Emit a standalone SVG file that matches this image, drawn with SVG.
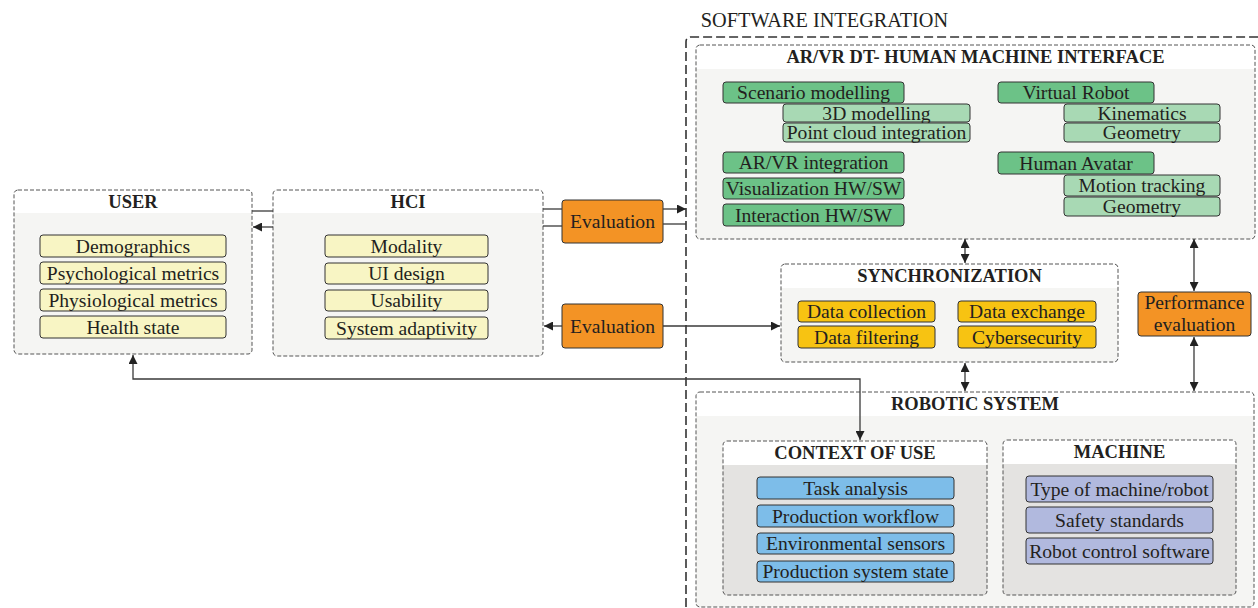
<svg xmlns="http://www.w3.org/2000/svg" width="1258" height="608" viewBox="0 0 1258 608">
<style>
text{font-family:"Liberation Serif","Times New Roman",serif;fill:#231f20;text-anchor:middle}
.t{font-size:19.6px}
.h{font-size:18.5px;font-weight:bold}
.box{fill:none;stroke:#555;stroke-width:1;stroke-dasharray:4 2}
.hdr{fill:#fff}
.body{fill:#f5f5f3}
.body2{fill:#e4e3e1}
.it{stroke:#333;stroke-width:1}
.yel{fill:#f8f5c4}
.dg{fill:#6cc287}
.lg{fill:#a8d9b4}
.sy{fill:#f7c312}
.or{fill:#f39325}
.bl{fill:#7dbde9}
.pu{fill:#b1b9de}
.c{fill:none;stroke:#3a3a3a;stroke-width:1.3}
</style>
<defs>
<marker id="ah" markerUnits="userSpaceOnUse" markerWidth="10" markerHeight="9" refX="9" refY="4.5" orient="auto-start-reverse">
<path d="M0,0 L9,4.5 L0,9 z" fill="#222"/>
</marker>
</defs>
<rect width="1258" height="608" fill="#fff"/>

<g id="software-integration">
<path d="M686,620 V42 Q686,37 691,37 H1270" fill="none" stroke="#333" stroke-width="1.6" stroke-dasharray="9 4"/>
<text x="824.5" y="27" style="font-size:20.3px">SOFTWARE INTEGRATION</text>
</g>

<g id="user">
<rect x="14" y="190" width="238" height="164" rx="4" class="body"/>
<path d="M14,213 V194 Q14,190 18,190 H248 Q252,190 252,194 V213 Z" class="hdr"/>
<rect x="14" y="190" width="238" height="164" rx="4" class="box"/>
<text x="133" y="208" class="h">USER</text>
<rect x="40" y="235" width="186" height="22" rx="3" class="it yel"/>
<text x="133" y="252.5" class="t">Demographics</text>
<rect x="40" y="262" width="186" height="22" rx="3" class="it yel"/>
<text x="133" y="279.5" class="t">Psychological metrics</text>
<rect x="40" y="289" width="186" height="22" rx="3" class="it yel"/>
<text x="133" y="306.5" class="t">Physiological metrics</text>
<rect x="40" y="316" width="186" height="22" rx="3" class="it yel"/>
<text x="133" y="333.5" class="t">Health state</text>
</g>

<g id="hci">
<rect x="273" y="190" width="270" height="166" rx="4" class="body"/>
<path d="M273,213 V194 Q273,190 277,190 H539 Q543,190 543,194 V213 Z" class="hdr"/>
<rect x="273" y="190" width="270" height="166" rx="4" class="box"/>
<text x="408" y="208" class="h">HCI</text>
<rect x="325" y="235" width="163" height="22" rx="3" class="it yel"/>
<text x="406.5" y="252.5" class="t">Modality</text>
<rect x="325" y="263" width="163" height="21" rx="3" class="it yel"/>
<text x="406.5" y="280" class="t">UI design</text>
<rect x="325" y="290" width="163" height="21" rx="3" class="it yel"/>
<text x="406.5" y="307" class="t">Usability</text>
<rect x="325" y="317" width="163" height="22" rx="3" class="it yel"/>
<text x="406.5" y="334.5" class="t">System adaptivity</text>
</g>

<g id="evaluation-1">
<rect x="562" y="200" width="101" height="43" rx="3" class="it or"/>
<text x="612.5" y="228" class="t">Evaluation</text>
</g>
<g id="evaluation-2">
<rect x="562" y="304" width="101" height="44" rx="3" class="it or"/>
<text x="612.5" y="332.5" class="t">Evaluation</text>
</g>

<g id="arvr-hmi">
<rect x="696" y="45" width="559" height="194" rx="4" class="body"/>
<path d="M696,69 V49 Q696,45 700,45 H1251 Q1255,45 1255,49 V69 Z" class="hdr"/>
<rect x="696" y="45" width="559" height="194" rx="4" class="box"/>
<text x="975.5" y="63" class="h">AR/VR DT- HUMAN MACHINE INTERFACE</text>
<rect x="723" y="82" width="181" height="21" rx="3" class="it dg"/>
<text x="813.5" y="99" class="t">Scenario modelling</text>
<rect x="783" y="104" width="187" height="18" rx="3" class="it lg"/>
<text x="876.5" y="119.5" class="t">3D modelling</text>
<rect x="783" y="123" width="187" height="19" rx="3" class="it lg"/>
<text x="876.5" y="139" class="t">Point cloud integration</text>
<rect x="723" y="152" width="181" height="21" rx="3" class="it dg"/>
<text x="813.5" y="169" class="t">AR/VR integration</text>
<rect x="723" y="178" width="181" height="21" rx="3" class="it dg"/>
<text x="813.5" y="195" class="t">Visualization HW/SW</text>
<rect x="723" y="204" width="181" height="22" rx="3" class="it dg"/>
<text x="813.5" y="221.5" class="t">Interaction HW/SW</text>
<rect x="998" y="82" width="156" height="21" rx="3" class="it dg"/>
<text x="1076" y="99" class="t">Virtual Robot</text>
<rect x="1064" y="104" width="156" height="18" rx="3" class="it lg"/>
<text x="1142" y="119.5" class="t">Kinematics</text>
<rect x="1064" y="123" width="156" height="19" rx="3" class="it lg"/>
<text x="1142" y="139" class="t">Geometry</text>
<rect x="998" y="152" width="156" height="22" rx="3" class="it dg"/>
<text x="1076" y="169.5" class="t">Human Avatar</text>
<rect x="1064" y="175" width="156" height="21" rx="3" class="it lg"/>
<text x="1142" y="192" class="t">Motion tracking</text>
<rect x="1064" y="197" width="156" height="19" rx="3" class="it lg"/>
<text x="1142" y="213" class="t">Geometry</text>
</g>

<g id="synchronization">
<rect x="781" y="264" width="337" height="98" rx="4" class="body"/>
<path d="M781,288 V268 Q781,264 785,264 H1114 Q1118,264 1118,268 V288 Z" class="hdr"/>
<rect x="781" y="264" width="337" height="98" rx="4" class="box"/>
<text x="949.5" y="282" class="h">SYNCHRONIZATION</text>
<rect x="798" y="301" width="137" height="21" rx="3" class="it sy"/>
<text x="866.5" y="318" class="t">Data collection</text>
<rect x="798" y="326" width="137" height="22" rx="3" class="it sy"/>
<text x="866.5" y="343.5" class="t">Data filtering</text>
<rect x="958" y="301" width="138" height="21" rx="3" class="it sy"/>
<text x="1027" y="318" class="t">Data exchange</text>
<rect x="958" y="326" width="138" height="22" rx="3" class="it sy"/>
<text x="1027" y="343.5" class="t">Cybersecurity</text>
</g>

<g id="performance-evaluation">
<rect x="1138" y="292" width="113" height="44" rx="3" class="it or"/>
<text x="1194.5" y="309" class="t">Performance</text>
<text x="1194.5" y="331" class="t">evaluation</text>
</g>

<g id="robotic-system">
<rect x="696" y="392" width="558" height="215" rx="4" class="body"/>
<path d="M696,416 V396 Q696,392 700,392 H1250 Q1254,392 1254,396 V416 Z" class="hdr"/>
<rect x="696" y="392" width="558" height="215" rx="4" class="box"/>
<text x="975" y="410" class="h">ROBOTIC SYSTEM</text>
</g>

<g id="context-of-use">
<rect x="723" y="441" width="264" height="154" rx="4" class="body2"/>
<path d="M723,465 V445 Q723,441 727,441 H983 Q987,441 987,445 V465 Z" class="hdr"/>
<rect x="723" y="441" width="264" height="154" rx="4" class="box"/>
<text x="855" y="459" class="h">CONTEXT OF USE</text>
<rect x="757" y="477" width="197" height="22" rx="3" class="it bl"/>
<text x="855.5" y="494.5" class="t">Task analysis</text>
<rect x="757" y="505" width="197" height="22" rx="3" class="it bl"/>
<text x="855.5" y="522.5" class="t">Production workflow</text>
<rect x="757" y="533" width="197" height="21" rx="3" class="it bl"/>
<text x="855.5" y="550" class="t">Environmental sensors</text>
<rect x="757" y="561" width="197" height="21" rx="3" class="it bl"/>
<text x="855.5" y="578" class="t">Production system state</text>
</g>

<g id="machine">
<rect x="1003" y="440" width="233" height="155" rx="4" class="body2"/>
<path d="M1003,464 V444 Q1003,440 1007,440 H1232 Q1236,440 1236,444 V464 Z" class="hdr"/>
<rect x="1003" y="440" width="233" height="155" rx="4" class="box"/>
<text x="1119.5" y="458" class="h">MACHINE</text>
<rect x="1026" y="476" width="187" height="26" rx="3" class="it pu"/>
<text x="1119.5" y="495.5" class="t">Type of machine/robot</text>
<rect x="1026" y="507" width="187" height="26" rx="3" class="it pu"/>
<text x="1119.5" y="526.5" class="t">Safety standards</text>
<rect x="1026" y="538" width="187" height="26" rx="3" class="it pu"/>
<text x="1119.5" y="557.5" class="t">Robot control software</text>
</g>

<g id="connectors">
<path d="M252,211 H273" class="c"/>
<path d="M273,227 H253" class="c" marker-end="url(#ah)"/>
<path d="M543,209 H562" class="c"/>
<path d="M543,226 H562" class="c"/>
<path d="M663,209 H686" class="c" marker-end="url(#ah)"/>
<path d="M663,224 H686" class="c"/>
<path d="M562,326 H544" class="c" marker-end="url(#ah)"/>
<path d="M663,326 H780" class="c" marker-end="url(#ah)"/>
<path d="M965,239 V263" class="c" marker-start="url(#ah)" marker-end="url(#ah)"/>
<path d="M965,363 V391" class="c" marker-start="url(#ah)" marker-end="url(#ah)"/>
<path d="M1194,239 V291" class="c" marker-start="url(#ah)" marker-end="url(#ah)"/>
<path d="M1194,337 V391" class="c" marker-start="url(#ah)" marker-end="url(#ah)"/>
<path d="M133,355 V379 H860 V440" class="c" marker-start="url(#ah)" marker-end="url(#ah)"/>
</g>
</svg>
